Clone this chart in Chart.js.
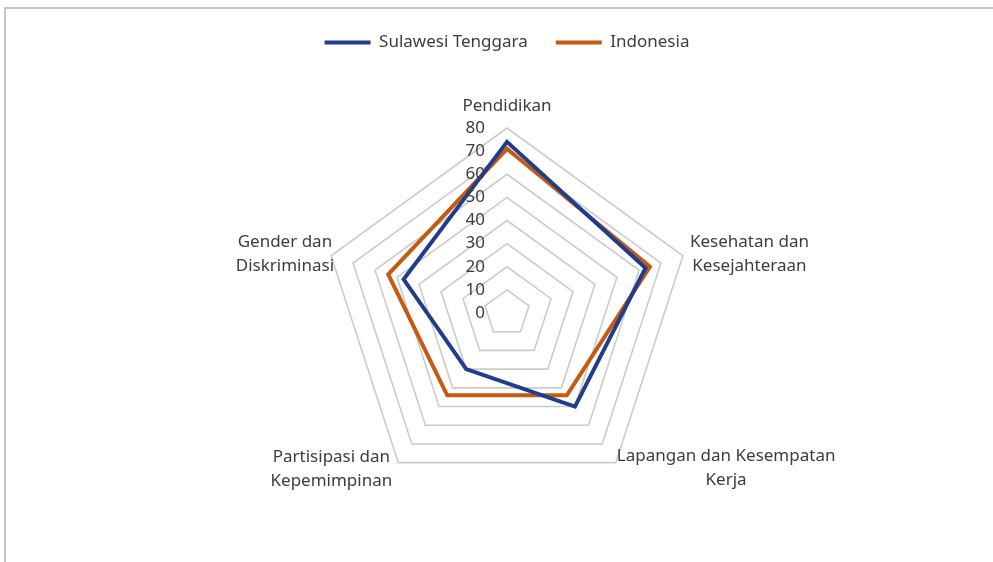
<!DOCTYPE html>
<html>
<head>
<meta charset="utf-8">
<script src="https://cdn.jsdelivr.net/npm/chart.js@4/dist/chart.umd.min.js"></script>
<style>
  html, body { margin: 0; padding: 0; background: #ffffff; }
  #wrap { position: relative; width: 993px; height: 562px; overflow: hidden; }
  #c { position: absolute; left: 0; top: 0; }
  #frame { position: absolute; left: 4px; top: 7px; width: 1200px; height: 800px;
           border-top: 2px solid #c6c6c6; border-left: 2px solid #c6c6c6; pointer-events: none; }
</style>
</head>
<body>
<div id="wrap">
  <canvas id="c" width="993" height="562"></canvas>
  <div id="frame"></div>
</div>
<script>
// ---- data ----
const categories = [
  ['Pendidikan'],
  ['Kesehatan dan', 'Kesejahteraan'],
  ['Lapangan dan Kesempatan', 'Kerja'],
  ['Partisipasi dan', 'Kepemimpinan'],
  ['Gender dan', 'Diskriminasi']
];
const seriesNames = ['Sulawesi Tenggara', 'Indonesia'];
const sulawesiTenggara = [74, 63, 50, 30, 47];
const indonesia = [71, 65, 44, 44, 54];
const tickValues = [0, 10, 20, 30, 40, 50, 60, 70, 80];

const BLUE = '#1f3d8c';
const ORANGE = '#c55a11';
const TEXT = '#3d3d3d';
const FONT = '"Noto Sans", "DejaVu Sans", sans-serif';

// extra space below legend
const legendSpacer = {
  id: 'legendSpacer',
  beforeLayout(chart) {
    const lg = chart.legend;
    if (lg && !lg._patched) {
      const f = lg.fit;
      lg.fit = function () { f.call(this); this.height += 67; };
      lg._patched = true;
    }
  }
};

// tick labels drawn left of vertical axis
const tickLabels = {
  id: 'tickLabels',
  afterDatasetsDraw(chart) {
    const s = chart.scales.r;
    const ctx = chart.ctx;
    ctx.save();
    ctx.font = '17px ' + FONT;
    ctx.fillStyle = TEXT;
    ctx.textAlign = 'right';
    ctx.textBaseline = 'middle';
    tickValues.forEach(v => {
      const p = s.getPointPositionForValue(0, v);
      ctx.fillText(String(v), p.x - 22, p.y);
    });
    ctx.restore();
  }
};

// category labels around the pentagon
const catLabels = {
  id: 'catLabels',
  afterDraw(chart) {
    const s = chart.scales.r;
    const ctx = chart.ctx;
    ctx.save();
    ctx.font = '17px ' + FONT;
    ctx.fillStyle = TEXT;
    ctx.textBaseline = 'middle';
    ctx.textAlign = 'center';
    const lh = 24;
    categories.forEach((lines, i) => {
      const v = s.getPointPositionForValue(i, s.max);
      const w = Math.max(...lines.map(t => ctx.measureText(t).width));
      let cx, y0;
      if (i === 0) { cx = v.x; y0 = v.y - 22; }
      else if (i === 1) { cx = v.x + 7 + w / 2; y0 = v.y - 14; }
      else if (i === 2) { cx = v.x + 1 + w / 2; y0 = v.y - 7; }
      else if (i === 3) { cx = v.x - 6 - w / 2; y0 = v.y - 6; }
      else { cx = v.x + 3 - w / 2; y0 = v.y - 14; }
      lines.forEach((t, k) => ctx.fillText(t, cx, y0 + k * lh));
    });
    ctx.restore();
  }
};

new Chart(document.getElementById('c'), {
  type: 'radar',
  data: {
    labels: categories,
    datasets: [
      { label: seriesNames[0], data: sulawesiTenggara, borderColor: BLUE, backgroundColor: BLUE,
        borderWidth: 4, pointRadius: 0, fill: false, tension: 0, borderJoinStyle: 'miter' },
      { label: seriesNames[1], data: indonesia, borderColor: ORANGE, backgroundColor: ORANGE,
        borderWidth: 4, pointRadius: 0, fill: false, tension: 0, borderJoinStyle: 'miter' }
    ]
  },
  options: {
    responsive: false,
    animation: false,
    devicePixelRatio: 1,
    layout: { padding: { top: 6, left: 21, right: 0, bottom: 64 } },
    plugins: {
      legend: {
        position: 'top',
        labels: {
          boxWidth: 46, boxHeight: 4, padding: 28, color: TEXT,
          font: { family: FONT, size: 17 },
          generateLabels(chart) {
            return chart.data.datasets.map((d, i) => ({
              text: d.label, fillStyle: d.borderColor, strokeStyle: d.borderColor,
              lineWidth: 0, hidden: false, datasetIndex: i, fontColor: TEXT
            }));
          }
        }
      },
      tooltip: { enabled: false }
    },
    scales: {
      r: {
        min: 0, max: 80,
        ticks: { stepSize: 10, display: false },
        pointLabels: { display: false },
        grid: { color: '#cbcbcb', lineWidth: 1.6 },
        angleLines: { display: false }
      }
    }
  },
  plugins: [legendSpacer, tickLabels, catLabels]
});
</script>
</body>
</html>
